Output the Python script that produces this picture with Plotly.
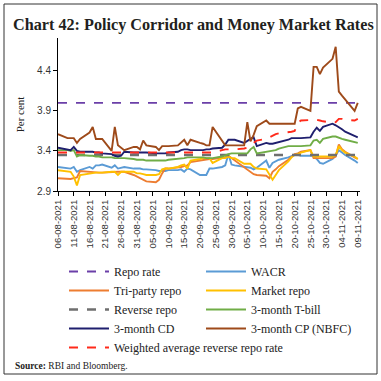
import pandas as pd
import plotly.graph_objects as go

# Business days in the sample period
dates = pd.bdate_range("2021-08-06", "2021-11-09")

repo_rate = [4.00] * len(dates)
reverse_repo = [3.35] * len(dates)

cp_nbfc = [3.61, 3.56, 3.56, 3.56, 3.50, 3.55, 3.63, 3.70, 3.55, 3.55,
           3.55, 3.40, 3.70, 3.47, 3.44, 3.41, 3.45, 3.45, 3.42, 3.53,
           3.47, 3.45, 3.41, 3.46, 3.46, 3.46, 3.47, 3.50, 3.54, 3.47,
           3.54, 3.50, 3.49, 3.47, 3.47, 3.70, 3.52, 3.47, 3.47, 3.47,
           3.47, 3.47, 3.76, 3.52, 3.60, 3.71, 3.78, 3.74, 3.74, 3.74,
           3.74, 3.74, 3.74, 3.74, 3.93, 3.95, 3.90, 4.45, 4.45, 4.36,
           4.44, 4.55, 4.70, 4.14, 4.09, 4.04, 3.90, 4.00]

cd_3m = [3.44, 3.42, 3.41, 3.45, 3.40, 3.39, 3.39, 3.39, 3.38, 3.38,
         3.37, 3.36, 3.34, 3.33, 3.34, 3.39, 3.38, 3.38, 3.38, 3.38,
         3.38, 3.37, 3.37, 3.37, 3.37, 3.38, 3.39, 3.41, 3.42, 3.42,
         3.41, 3.41, 3.41, 3.42, 3.42, 3.43, 3.44, 3.48, 3.54, 3.54,
         3.54, 3.50, 3.53, 3.55, 3.57, 3.46, 3.50, 3.49, 3.49, 3.50,
         3.51, 3.54, 3.56, 3.56, 3.56, 3.56, 3.57, 3.64, 3.69, 3.65,
         3.70, 3.74, 3.72, 3.70, 3.67, 3.64, 3.58, 3.57]

warr = [3.38] * 30 + [
         3.38, 3.38, 3.38, 3.38, 3.38, 3.38, 3.41, 3.42, 3.42, 3.42,
         3.42, 3.43, 3.44, 3.47, 3.50, 3.53, 3.55, 3.57, 3.60, 3.61,
         3.62, 3.63, 3.64, 3.65, 3.75, 3.78, 3.79, 3.79, 3.79, 3.78,
         3.77, 3.75, 3.76, 3.80, 3.80, 3.79, 3.78, 3.80]

tbill_3m = [3.41, 3.41, 3.40, 3.41, 3.33, 3.35, 3.34, 3.34, 3.33, 3.33,
            3.32, 3.32, 3.31, 3.31, 3.31, 3.31, 3.30, 3.29, 3.29, 3.29,
            3.28, 3.28, 3.28, 3.28, 3.28, 3.29, 3.30, 3.30, 3.31, 3.32,
            3.32, 3.32, 3.32, 3.31, 3.31, 3.31, 3.33, 3.35, 3.36, 3.37,
            3.37, 3.37, 3.37, 3.42, 3.45, 3.37, 3.39, 3.39, 3.40, 3.41,
            3.43, 3.46, 3.46, 3.46, 3.46, 3.46, 3.47, 3.53, 3.54, 3.50,
            3.55, 3.58, 3.58, 3.56, 3.55, 3.54, 3.51, 3.50]

wacr = [3.20, 3.18, 3.18, 3.20, 3.14, 3.16, 3.20, 3.18, 3.22, 3.22,
        3.23, 3.19, 3.22, 3.18, 3.19, 3.20, 3.18, 3.18, 3.18, 3.17,
        3.17, 3.16, 3.15, 3.15, 3.15, 3.16, 3.16, 3.17, 3.14, 3.18,
        3.17, 3.10, 3.10, 3.10, 3.18, 3.18, 3.20, 3.22, 3.36, 3.23,
        3.22, 3.20, 3.20, 3.19, 3.17, 3.19, 3.28, 3.19, 3.25, 3.27,
        3.29, 3.32, 3.34, 3.35, 3.35, 3.34, 3.34, 3.34, 3.30, 3.25,
        3.24, 3.30, 3.34, 3.41, 3.38, 3.35, 3.28, 3.25]

market_repo = [3.16, 3.14, 3.14, 3.08, 2.97, 3.10, 3.12, 3.12, 3.13, 3.13,
               3.13, 3.14, 3.14, 3.10, 3.14, 3.14, 3.14, 3.12, 3.12, 3.11,
               3.10, 3.10, 3.11, 3.17, 3.18, 3.18, 3.20, 3.22, 3.23, 3.18,
               3.28, 3.30, 3.31, 3.31, 3.31, 3.25, 3.31, 3.31, 3.33, 3.31,
               3.31, 3.24, 3.24, 3.24, 3.20, 3.18, 3.17, 3.10, 3.04, 3.10,
               3.16, 3.27, 3.32, 3.35, 3.36, 3.38, 3.41, 3.33, 3.33, 3.33,
               3.33, 3.33, 3.35, 3.46, 3.41, 3.38, 3.33, 3.30]

triparty_repo = [3.06, 3.05, 3.05, 3.06, 3.07, 3.15, 3.14, 3.13, 3.13, 3.13,
                 3.13, 3.14, 3.14, 3.14, 3.14, 3.14, 3.10, 3.08, 3.06, 3.04,
                 3.02, 3.01, 3.04, 3.12, 3.18, 3.18, 3.19, 3.20, 3.21, 3.22,
                 3.26, 3.28, 3.29, 3.29, 3.30, 3.30, 3.31, 3.32, 3.34, 3.31,
                 3.29, 3.20, 3.16, 3.13, 3.11, 3.10, 3.09, 3.06, 3.14, 3.17,
                 3.21, 3.29, 3.33, 3.36, 3.37, 3.39, 3.41, 3.31, 3.31, 3.31,
                 3.31, 3.31, 3.33, 3.48, 3.42, 3.39, 3.32, 3.30]

tick_dates = pd.date_range("2021-08-06", "2021-11-09", freq="5D")
tick_labels = [d.strftime("%d-%m-%Y") for d in tick_dates]
y_ticks = [2.9, 3.4, 3.9, 4.4]

# name, values, colour, dash, width, legend column
series = [
    ("Repo rate", repo_rate, "#6b3fa8", "dash", 1.9, "legend"),
    ("WACR", wacr, "#5b9bd5", "solid", 1.9, "legend2"),
    ("Tri-party repo", triparty_repo, "#ed7d31", "solid", 1.9, "legend"),
    ("Market repo", market_repo, "#ffc000", "solid", 1.9, "legend2"),
    ("Reverse repo", reverse_repo, "#6f6f6f", "dash", 2.4, "legend"),
    ("3-month T-bill", tbill_3m, "#70ad47", "solid", 1.9, "legend2"),
    ("3-month CD", cd_3m, "#1f1f6e", "solid", 1.9, "legend"),
    ("3-month CP (NBFC)", cp_nbfc, "#9e4a1a", "solid", 1.9, "legend2"),
    ("Weighted average reverse repo rate", warr, "#ff2a1a", "dash", 1.9, "legend"),
]

fig = go.Figure()
for name, vals, color, dash, w, lg in series:
    fig.add_trace(go.Scatter(x=dates, y=vals, mode="lines", name=name, legend=lg,
                             line=dict(color=color, dash=dash, width=w)))

L, R, T, B = 58, 21, 38, 190
W = H = 381
pw = W - L - R
ph = H - T - B

def px_x(p):
    return (p - L) / pw

def px_y(p):
    return (H - B - p) / ph

legend_font = dict(family="Liberation Serif", size=12, color="#222")

fig.update_layout(
    width=W, height=H,
    margin=dict(l=L, r=R, t=T, b=B, autoexpand=False),
    paper_bgcolor="white", plot_bgcolor="white",
    title=dict(text="<b>Chart 42: Policy Corridor and Money Market Rates</b>",
               x=13 / W, xanchor="left", y=1 - 24 / H, yanchor="middle",
               font=dict(family="Liberation Serif", size=16.2, color="#231f20")),
    xaxis=dict(range=["2021-08-06", "2021-11-09 17:00"], tickvals=tick_dates,
               ticktext=tick_labels, tickangle=-90, showline=True,
               linecolor="#000", linewidth=1, ticks="outside", ticklen=4,
               tickcolor="#000", showgrid=False, zeroline=False,
               tickfont=dict(family="Liberation Sans", size=9.5, color="#333"),
               automargin=False),
    yaxis=dict(range=[2.9, 4.81], tickvals=y_ticks,
               ticktext=[f"{v:.1f}" for v in y_ticks], showline=True,
               linecolor="#000", linewidth=1, ticks="outside", ticklen=4,
               tickcolor="#000", showgrid=False, zeroline=False,
               tickfont=dict(family="Liberation Sans", size=10, color="#333"),
               title=dict(text="Per cent", standoff=10,
                          font=dict(family="Liberation Serif", size=11, color="#222")),
               automargin=False),
    legend=dict(orientation="v", x=px_x(64), y=px_y(257), xanchor="left", yanchor="top",
                itemwidth=40, font=legend_font, bgcolor="rgba(0,0,0,0)",
                traceorder="normal", tracegroupgap=0),
    legend2=dict(orientation="v", x=px_x(201), y=px_y(257), xanchor="left", yanchor="top",
                 itemwidth=40, font=legend_font, bgcolor="rgba(0,0,0,0)",
                 traceorder="normal", tracegroupgap=0),
    showlegend=True,
)

fig.add_annotation(text="<b>Source:</b> RBI and Bloomberg.", xref="paper", yref="paper",
                   x=px_x(13), y=px_y(366), xanchor="left", yanchor="middle",
                   showarrow=False,
                   font=dict(family="Liberation Serif", size=9.5, color="#222"))

fig.add_shape(type="rect", xref="paper", yref="paper",
              x0=px_x(4), x1=px_x(377), y0=px_y(374), y1=px_y(4),
              line=dict(color="#333", width=1), fillcolor="rgba(0,0,0,0)", layer="below")

fig.write_html("out.html", config={"displayModeBar": False},
               post_script="document.body.style.margin='0';document.body.style.overflow='hidden';")
